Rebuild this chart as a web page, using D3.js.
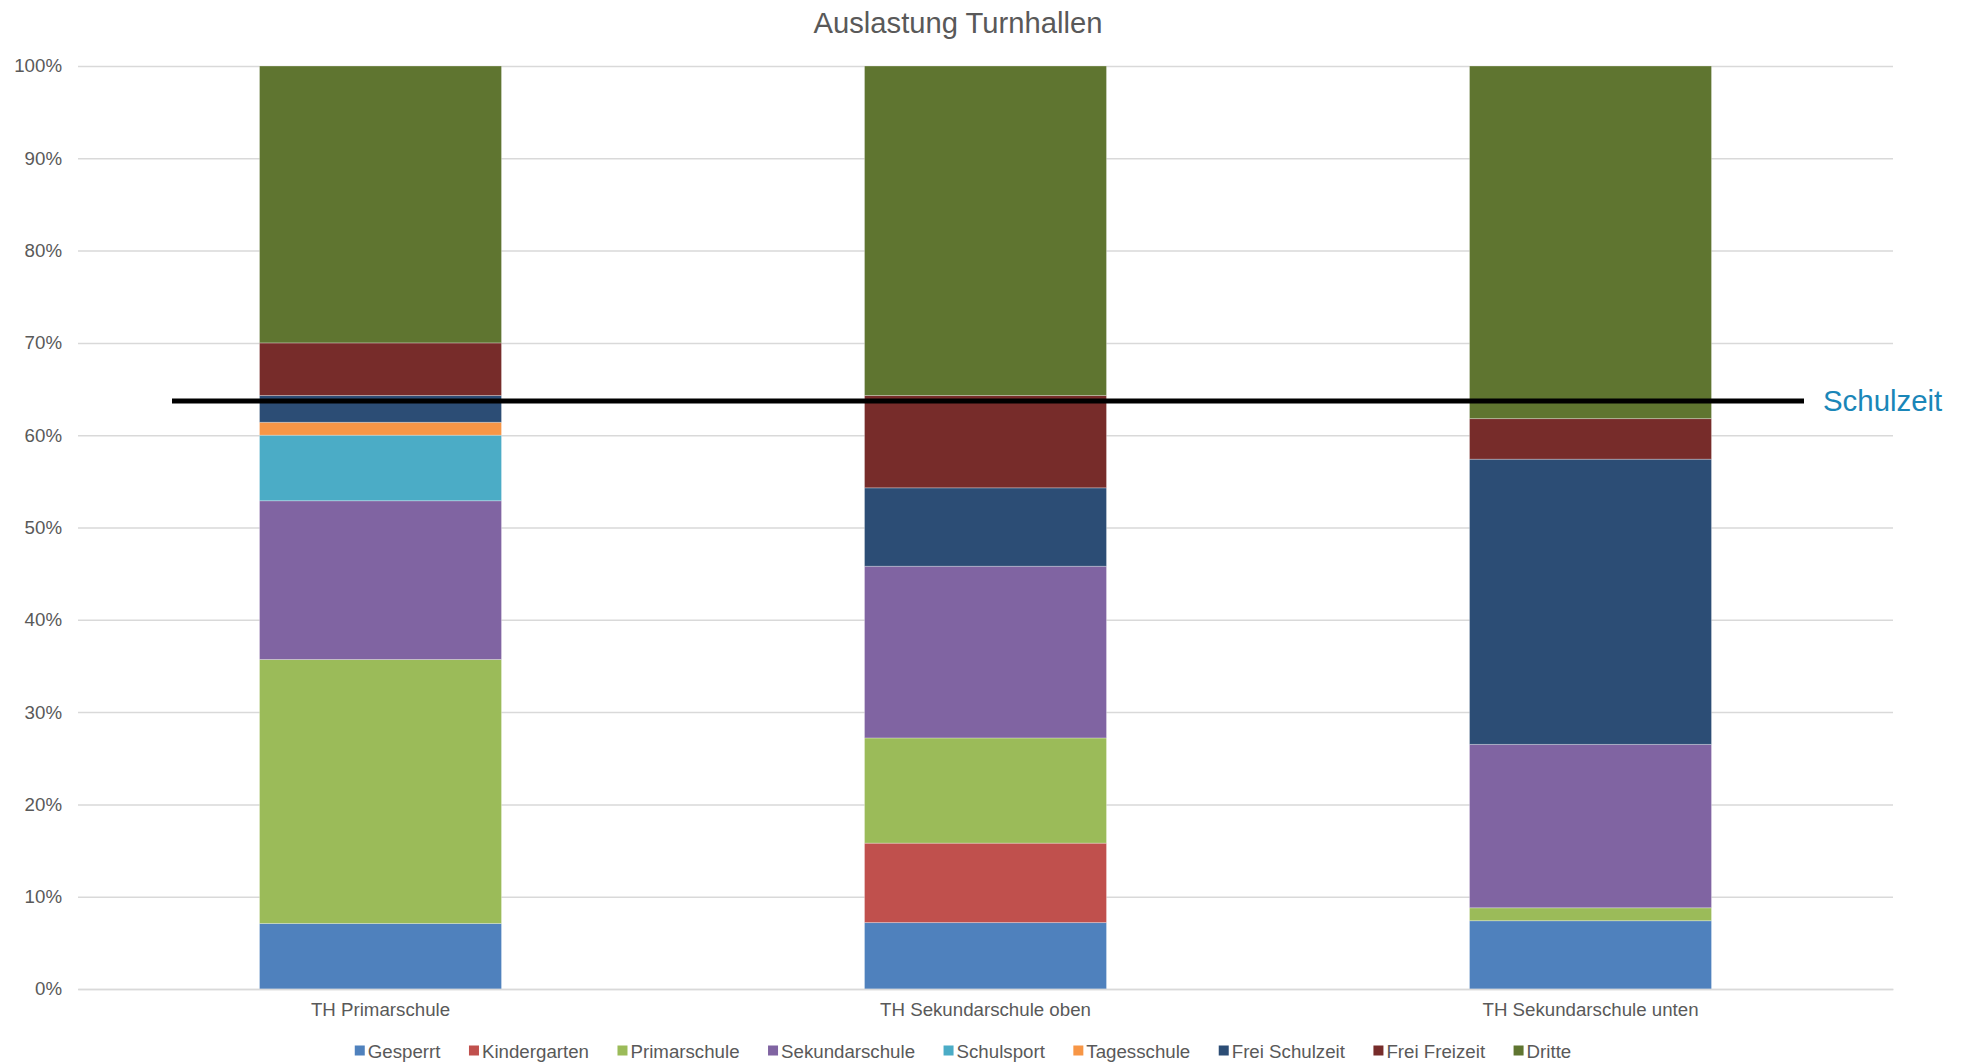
<!DOCTYPE html>
<html>
<head>
<meta charset="utf-8">
<script src="https://cdn.jsdelivr.net/npm/d3@7"></script>
<style>
  html, body { margin: 0; padding: 0; background: #ffffff; }
  svg { display: block; font-family: "Liberation Sans", Arial, sans-serif; }
</style>
</head>
<body>
<svg id="chart" width="1969" height="1062"></svg>
<script>
// Halls (x categories)
const categories = ["TH Primarschule", "TH Sekundarschule oben", "TH Sekundarschule unten"];

// Usage groups (stack order, bottom to top)
const seriesNames = ["Gesperrt", "Kindergarten", "Primarschule", "Sekundarschule", "Schulsport",
                     "Tagesschule", "Frei Schulzeit", "Frei Freizeit", "Dritte"];

// Share of hall time per group, in percent, one entry per hall
const gesperrt       = [7.1, 7.2, 7.4];
const kindergarten   = [0.0, 8.6, 0.0];
const primarschule   = [28.6, 11.4, 1.4];
const sekundarschule = [17.2, 18.6, 17.7];
const schulsport     = [7.1, 0.0, 0.0];
const tagesschule    = [1.4, 0.0, 0.0];
const freiSchulzeit  = [2.9, 8.5, 30.9];
const freiFreizeit   = [5.7, 10.0, 4.4];
const dritte         = [30.0, 35.7, 38.2];

// School-time threshold line
const schulzeitLevel = 63.7;
const schulzeitLabel = "Schulzeit";

const yTicks = [0, 10, 20, 30, 40, 50, 60, 70, 80, 90, 100];
const title = "Auslastung Turnhallen";

const colors = ["#4f81bd", "#c0504d", "#9bbb59", "#8064a2", "#4bacc6",
                "#f79646", "#2c4d75", "#772c2a", "#5f7530"];

const seriesValues = [gesperrt, kindergarten, primarschule, sekundarschule, schulsport,
                      tagesschule, freiSchulzeit, freiFreizeit, dritte];

// Table rows for d3.stack
const rows = categories.map((c, i) => {
  const r = { category: c };
  seriesNames.forEach((s, k) => { r[s] = seriesValues[k][i]; });
  return r;
});

const svg = d3.select("#chart");
const textColor = "#595959";
const plot = { left: 78, right: 1893, top: 66, bottom: 989 };

const x = d3.scaleBand()
  .domain(categories)
  .range([plot.left, plot.right])
  .paddingInner(0.6)
  .paddingOuter(0.3);

const y = d3.scaleLinear().domain([0, 100]).range([plot.bottom, plot.top]);
const color = d3.scaleOrdinal().domain(seriesNames).range(colors);

// Title
svg.append("text")
  .attr("x", 958).attr("y", 33)
  .attr("text-anchor", "middle")
  .attr("font-size", 29.2)
  .attr("fill", textColor)
  .text(title);

// Horizontal gridlines + y labels
const yAxis = d3.axisLeft(y)
  .tickValues(yTicks)
  .tickSize(-(plot.right - plot.left))
  .tickPadding(16)
  .tickFormat(d => d + "%");

const gy = svg.append("g")
  .attr("transform", `translate(${plot.left},0)`)
  .call(yAxis);
gy.select(".domain").remove();
gy.selectAll(".tick line").attr("stroke", "#d9d9d9").attr("stroke-width", 1.5);
gy.selectAll(".tick text")
  .attr("fill", textColor)
  .attr("font-size", 18.7)
  .attr("font-family", "Liberation Sans, Arial, sans-serif");

// Stacked bars
const stack = d3.stack().keys(seriesNames);
const layers = stack(rows);

svg.append("g").selectAll("g")
  .data(layers)
  .join("g")
  .attr("fill", d => color(d.key))
  .selectAll("rect")
  .data(d => d.filter(p => p[1] - p[0] > 0))
  .join("rect")
  .attr("x", d => x(d.data.category))
  .attr("width", x.bandwidth())
  .attr("y", d => y(d[1]))
  .attr("height", d => y(d[0]) - y(d[1]))
  .attr("stroke", "rgba(255,255,255,0.28)")
  .attr("stroke-width", 1);

// X axis labels
const xAxis = d3.axisBottom(x).tickSize(0).tickPadding(14);
const gx = svg.append("g")
  .attr("transform", `translate(0,${plot.bottom})`)
  .call(xAxis);
gx.select(".domain").attr("stroke", "#d9d9d9").attr("stroke-width", 1.5);
gx.selectAll(".tick text")
  .attr("fill", textColor)
  .attr("font-size", 18.7)
  .attr("font-family", "Liberation Sans, Arial, sans-serif");

// Schulzeit threshold line and label
svg.append("line")
  .attr("x1", 172).attr("x2", 1804)
  .attr("y1", y(schulzeitLevel)).attr("y2", y(schulzeitLevel))
  .attr("stroke", "#000000")
  .attr("stroke-width", 5);

svg.append("text")
  .attr("x", 1823)
  .attr("y", y(schulzeitLevel) + 10)
  .attr("font-size", 29.4)
  .attr("fill", "#1a86b8")
  .text(schulzeitLabel);

// Legend
const legend = svg.append("g");
const legendY = 1051;
const items = legend.selectAll("g")
  .data(seriesNames)
  .join("g");
items.append("rect")
  .attr("width", 10).attr("height", 10)
  .attr("y", legendY - 5.5)
  .attr("fill", d => color(d));
items.append("text")
  .attr("x", 13)
  .attr("y", legendY + 6.5)
  .attr("font-size", 18.7)
  .attr("fill", textColor)
  .text(d => d);

const spacing = 28.5;
let cursor = 0;
items.each(function () {
  const g = d3.select(this);
  g.attr("transform", `translate(${cursor},0)`);
  cursor += 13 + g.select("text").node().getComputedTextLength() + spacing;
});
const legendWidth = cursor - spacing;
legend.attr("transform", `translate(${963 - legendWidth / 2},0)`);
</script>
</body>
</html>
